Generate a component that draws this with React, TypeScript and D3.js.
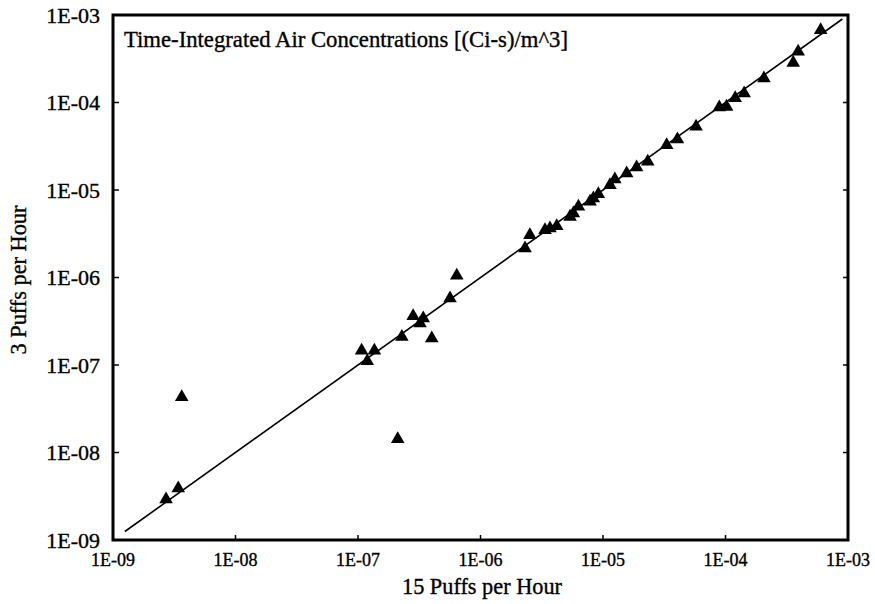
import React from "react";
import * as d3 from "d3";

// Time-integrated air concentrations, (Ci-s)/m^3, at each receptor
const puffs15: number[] = [
  2.71e-9, 3.41e-9, 3.64e-9, 1.07e-7, 1.19e-7, 1.36e-7, 2.11e-7, 2.28e-7, 2.82e-7,
  3.21e-7, 3.41e-7, 4.0e-7, 5.64e-7, 6.4e-7, 2.31e-6, 2.53e-6, 3.36e-6, 3.69e-6,
  4.19e-6, 5.38e-6, 5.73e-6, 6.3e-6, 7.84e-6, 8.34e-6, 9.16e-6, 1.14e-5, 1.25e-5,
  1.56e-5, 1.88e-5, 2.32e-5, 3.31e-5, 4.05e-5, 5.75e-5, 8.9e-5, 1.02e-4, 1.2e-4,
  1.42e-4, 2.06e-4, 3.57e-4, 3.92e-4, 5.98e-4,
];
const puffs3: number[] = [
  2.92e-9, 3.9e-9, 4.3e-8, 1.46e-7, 1.11e-7, 1.46e-7, 1.42e-8, 2.1e-7, 3.63e-7,
  3.0e-7, 3.42e-7, 2.02e-7, 5.78e-7, 1.05e-6, 2.15e-6, 3.06e-6, 3.49e-6, 3.65e-6,
  3.88e-6, 4.95e-6, 5.42e-6, 6.45e-6, 7.36e-6, 8.04e-6, 9.0e-6, 1.14e-5, 1.32e-5,
  1.55e-5, 1.82e-5, 2.11e-5, 3.27e-5, 3.79e-5, 5.3e-5, 8.8e-5, 8.95e-5, 1.12e-4,
  1.27e-4, 1.89e-4, 2.85e-4, 3.81e-4, 6.74e-4,
];

// One-to-one reference line endpoints
const identityLine: number[] = [1.25e-9, 9e-4];

const tickValues: number[] = [1e-9, 1e-8, 1e-7, 1e-6, 1e-5, 1e-4, 1e-3];
const tickLabels: string[] = ["1E-09", "1E-08", "1E-07", "1E-06", "1E-05", "1E-04", "1E-03"];

const titleText = "Time-Integrated Air Concentrations [(Ci-s)/m^3]";
const xTitle = "15 Puffs per Hour";
const yTitle = "3 Puffs per Hour";

const W = 875;
const H = 604;
const left = 113;
const right = 848;
const top = 15;
const bottom = 540;

const FONT = "'Liberation Serif', 'Times New Roman', serif";
// slightly heavier glyphs, like a printed Times face
const textInk = { fill: "#000", stroke: "#000", strokeWidth: 0.35 };

export default function App() {
  const x = d3.scaleLog().domain([1e-9, 1e-3]).range([left, right]);
  const y = d3.scaleLog().domain([1e-9, 1e-3]).range([bottom, top]);
  const tri = d3.symbol().type(d3.symbolTriangle).size(80)() as string;
  const points = puffs15.map((v, i) => [v, puffs3[i]] as [number, number]);
  const linePath = d3
    .line<number>()
    .x((d) => x(d))
    .y((d) => y(d))(identityLine) as string;

  return (
    <svg
      width={W}
      height={H}
      style={{ position: "absolute", left: 0, top: 0, background: "#fff" }}
      fontFamily={FONT}
    >
      <rect x={0} y={0} width={W} height={H} fill="#fff" />

      {/* inward ticks */}
      {tickValues.map((t, i) => (
        <g key={"t" + i} stroke="#000" strokeWidth={1.5}>
          <line x1={left} x2={left + 6} y1={y(t)} y2={y(t)} />
          <line x1={right} x2={right - 5} y1={y(t)} y2={y(t)} />
          <line x1={x(t)} x2={x(t)} y1={bottom} y2={bottom - 5} />
        </g>
      ))}

      {/* 1:1 line */}
      <path d={linePath} fill="none" stroke="#000" strokeWidth={1.6} />

      {/* data markers */}
      {points.map((p, i) => (
        <path key={"p" + i} d={tri} transform={`translate(${x(p[0])},${y(p[1])})`} fill="#000" />
      ))}

      {/* frame */}
      <rect
        x={left}
        y={top}
        width={right - left}
        height={bottom - top}
        fill="none"
        stroke="#000"
        strokeWidth={3}
      />

      {/* y tick labels */}
      {tickValues.map((t, i) => (
        <text key={"yl" + i} x={100} y={y(t) + 7.5} textAnchor="end" fontSize={22} {...textInk}>
          {tickLabels[i]}
        </text>
      ))}

      {/* x tick labels */}
      {tickValues.map((t, i) => (
        <text key={"xl" + i} x={x(t)} y={566} textAnchor="middle" fontSize={18} {...textInk}>
          {tickLabels[i]}
        </text>
      ))}

      <text x={124} y={47} fontSize={22.7} {...textInk}>
        {titleText}
      </text>

      <text x={482} y={594} textAnchor="middle" fontSize={22.3} {...textInk}>
        {xTitle}
      </text>

      <text
        transform={`translate(26, 280) rotate(-90)`}
        textAnchor="middle"
        fontSize={22.3}
        {...textInk}
      >
        {yTitle}
      </text>
    </svg>
  );
}
